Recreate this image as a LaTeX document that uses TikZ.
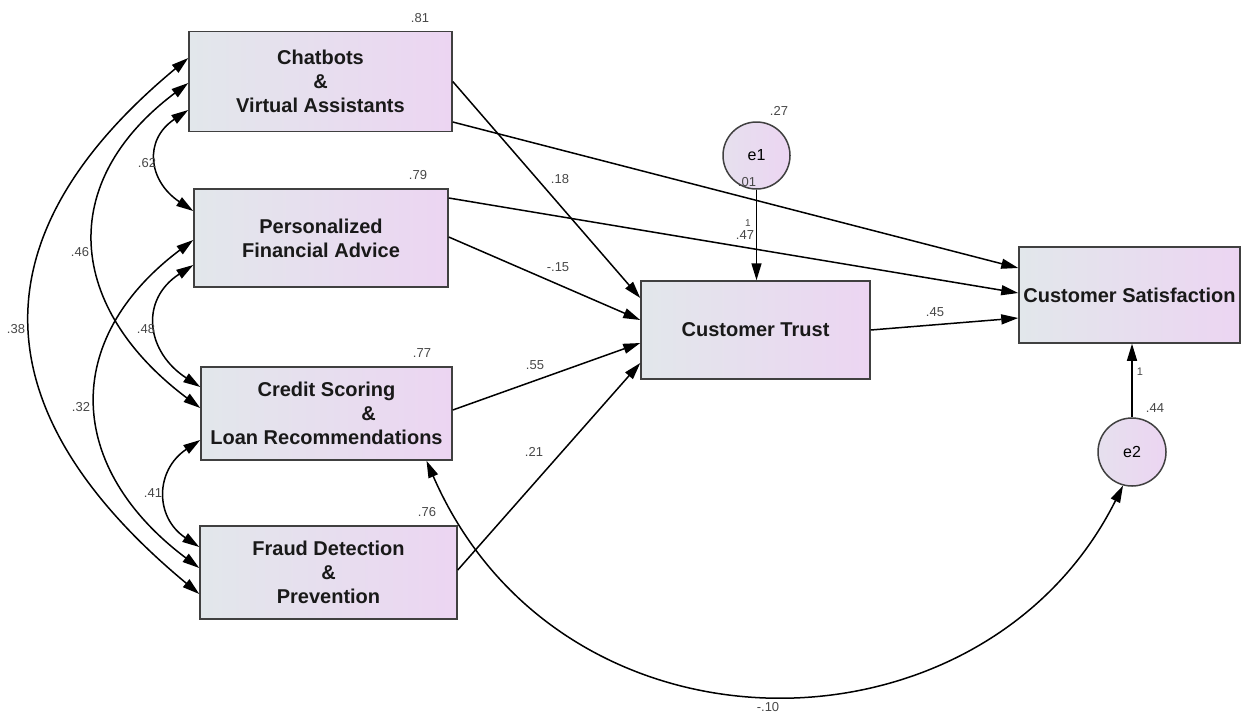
\documentclass[tikz,border=0pt]{standalone}
\usepackage{fontspec}
\setmainfont{Liberation Sans}
\usetikzlibrary{arrows.meta,positioning,calc}
\definecolor{boxleft}{HTML}{E2E7EB}
\definecolor{boxright}{HTML}{ECD5F2}

\begin{document}
\begin{tikzpicture}[x=1pt, y=-1pt,
    construct/.style={draw=black!75, line width=1.5pt, left color=boxleft, right color=boxright,
      align=center, inner sep=0pt, text=black!90, font=\fontsize{20}{24}\selectfont\bfseries},
    err/.style={circle, draw=black!75, line width=1.5pt, left color=boxleft!60!boxright, right color=boxright,
      minimum size=67pt, inner sep=0pt, font=\fontsize{16}{18}\selectfont},
    est/.style={inner sep=0pt, text=black!72, font=\fontsize{13}{15}\selectfont},
    effect/.style={line width=1.5pt, -{Triangle[length=17pt,width=10pt]}},
    cov/.style={line width=1.5pt, {Triangle[length=17pt,width=10pt]}-{Triangle[length=17pt,width=10pt]}}]
    \useasboundingbox (0,0) rectangle (1241,713);
    % Predictors
    \node[construct, minimum width=263pt, minimum height=100pt] (cva) at (320.5,81.5) {Chatbots\\\&\\Virtual Assistants};
    \node[construct, minimum width=254pt, minimum height=98pt] (pfa) at (321,238) {Personalized\\Financial Advice};
    \node[construct, minimum width=251pt, minimum height=93pt] (cslr) at (326.5,413.5) {Credit Scoring\\\hspace*{84pt}\&\\Loan Recommendations};
    \node[construct, minimum width=257pt, minimum height=93pt] (fdp) at (328.5,572.5) {Fraud Detection\\\&\\Prevention};
    % Outcomes and errors
    \node[construct, minimum width=229pt, minimum height=98pt] (ct) at (755.5,330) {Customer Trust};
    \node[construct, minimum width=221pt, minimum height=96pt] (cs) at (1129.5,295) {Customer Satisfaction};
    \node[err] (e1) at (756.5,155.5) {e1};
    \node[err, minimum size=68pt] (e2) at (1132,452) {e2};
    % Covariances
    \draw[cov] ([yshift=-28.5pt]cva.west) .. controls +(-45,30) and +(-45,-30) .. ([yshift=27pt]pfa.west);
    \draw[cov] ([yshift=-1.5pt]cva.west) .. controls +(-133,100) and +(-133,-100) .. ([yshift=5.5pt]cslr.west);
    \draw[cov] ([yshift=23.5pt]cva.west) .. controls +(-217,180) and +(-217,-180) .. ([yshift=-21.5pt]fdp.west);
    \draw[cov] ([yshift=-27pt]pfa.west) .. controls +(-54,35) and +(-54,-35) .. ([yshift=26.5pt]cslr.west);
    \draw[cov] ([yshift=-2pt]pfa.west) .. controls +(-133,100) and +(-133,-100) .. ([yshift=4.5pt]fdp.west);
    \draw[cov] ([yshift=-26.5pt]cslr.west) .. controls +(-45,30) and +(-45,-30) .. ([yshift=25.5pt]fdp.west);
    \draw[cov] ([xshift=100pt]cslr.south) .. controls +(135,310) and +(-140,280) .. (e2.255);
    % Regression paths
    \draw[effect] (cva.east) -- ([yshift=32pt]ct.west);
    \draw[effect] ([yshift=-40.5pt]cva.east) -- ([yshift=27pt]cs.west);
    \draw[effect] ([yshift=40pt]pfa.east) -- ([yshift=2pt]cs.west);
    \draw[effect] ([yshift=1pt]pfa.east) -- ([yshift=10pt]ct.west);
    \draw[effect] ([yshift=3.5pt]cslr.east) -- ([yshift=-13pt]ct.west);
    \draw[effect] ([yshift=2.5pt]fdp.east) -- ([yshift=-33pt]ct.west);
    \draw[effect] (ct.east) -- ([yshift=-23pt]cs.west);
    \draw[effect] (e1.south) -- (e1.south |- ct.north);
    \draw[effect] (e2.north) -- (e2.north |- cs.south);
    % Estimates
    \node[est] (r81) at (420,18) {.81};
    \node[est] (r79) at (418,175) {.79};
    \node[est] (r77) at (422,353) {.77};
    \node[est] (r76) at (427,512) {.76};
    \node[est] (v27) at (779,111) {.27};
    \node[est] (m01) at (747,182) {.01};
    \node[est, font=\fontsize{10}{12}\selectfont] (w1a) at (748,223) {1};
    \node[est] (b47) at (745,235) {.47};
    \node[est] (b18) at (560,179) {.18};
    \node[est] (b15) at (558,267) {-.15};
    \node[est] (b55) at (535,365) {.55};
    \node[est] (b21) at (534,452) {.21};
    \node[est] (b45) at (935,312) {.45};
    \node[est, font=\fontsize{11}{13}\selectfont] (w1b) at (1140,372) {1};
    \node[est] (v44) at (1155,408) {.44};
    \node[est] (c62) at (147,163) {.62};
    \node[est] (c46) at (80,252) {.46};
    \node[est] (c38) at (16,329) {.38};
    \node[est] (c48) at (146,329) {.48};
    \node[est] (c32) at (81,407) {.32};
    \node[est] (c41) at (153,493) {.41};
    \node[est] (c10) at (768,707) {-.10};
\end{tikzpicture}
\end{document}
